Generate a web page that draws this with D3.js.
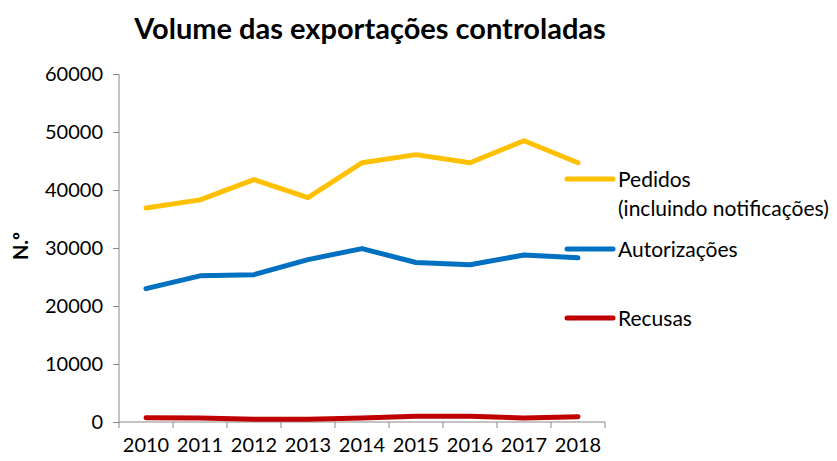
<!DOCTYPE html>
<html>
<head>
<meta charset="utf-8">
<script src="https://cdn.jsdelivr.net/npm/d3@7"></script>
<style>
  body { margin: 0; background: #fff; }
  text { font-family: Lato, "Open Sans", sans-serif; }
</style>
</head>
<body>
<div id="chart"></div>
<script>
// data
const years = ["2010", "2011", "2012", "2013", "2014", "2015", "2016", "2017", "2018"];
const pedidos = [36900, 38300, 41800, 38700, 44700, 46100, 44700, 48500, 44700];
const autorizacoes = [23000, 25200, 25400, 28000, 29900, 27500, 27100, 28800, 28300];
const recusas = [750, 700, 460, 460, 700, 1000, 1000, 700, 900];
const yTicks = [0, 10000, 20000, 30000, 40000, 50000, 60000];

const seriesNames = ["Pedidos", "Autorizações", "Recusas"];
const seriesColors = ["#FFC000", "#0070C0", "#C00000"];

const width = 837, height = 461;
const plotLeft = 119, plotRight = 605, plotTop = 74, plotBottom = 422;

let svg = d3.select("#chart")
    .append("svg")
    .attr("width", width)
    .attr("height", height);

// title
svg.append("text")
    .attr("x", 370)
    .attr("y", 39)
    .attr("text-anchor", "middle")
    .style("font-size", "29px")
    .style("font-weight", "bold")
    .text("Volume das exportações controladas");

let xScale = d3.scaleBand()
    .domain(years)
    .range([plotLeft, plotRight]);

let yScale = d3.scaleLinear()
    .domain([0, 60000])
    .range([plotBottom, plotTop]);

// axes
let xAxis = svg.append("g")
    .attr("transform", "translate(0," + plotBottom + ")")
    .call(d3.axisBottom(xScale).tickSize(0).tickPadding(16));
xAxis.select(".domain").attr("stroke", "#898989").attr("d", "M" + plotLeft + ",0H" + plotRight);
// tick marks at band edges
xAxis.selectAll("line.edge")
    .data(years.concat(["end"]))
    .enter()
    .append("line")
    .attr("class", "edge")
    .attr("x1", (d, i) => plotLeft + i * xScale.bandwidth())
    .attr("x2", (d, i) => plotLeft + i * xScale.bandwidth())
    .attr("y1", 0)
    .attr("y2", 6)
    .attr("stroke", "#898989");
xAxis.selectAll("text")
    .style("font-size", "20px")
    .attr("fill", "#000");

let yAxis = svg.append("g")
    .attr("transform", "translate(" + plotLeft + ",0)")
    .call(d3.axisLeft(yScale).tickValues(yTicks).tickFormat(d3.format("d")).tickSize(6).tickPadding(10));
yAxis.select(".domain").attr("stroke", "#898989").attr("d", "M0," + plotTop + "V" + plotBottom);
yAxis.selectAll(".tick line").attr("stroke", "#898989");
yAxis.selectAll("text")
    .style("font-size", "20px")
    .attr("fill", "#000");

// y axis label
svg.append("text")
    .attr("transform", "translate(28,246) rotate(-90)")
    .attr("text-anchor", "middle")
    .style("font-size", "20px")
    .style("font-weight", "bold")
    .text("N.º");

// lines
const line = d3.line()
    .x((d, i) => xScale(years[i]) + xScale.bandwidth() / 2)
    .y(d => yScale(d));

[pedidos, autorizacoes, recusas].forEach(function (data, k) {
    svg.append("path")
        .datum(data)
        .attr("d", line)
        .attr("fill", "none")
        .attr("stroke", seriesColors[k])
        .attr("stroke-width", 5)
        .attr("stroke-linecap", "round")
        .attr("stroke-linejoin", "round");
});

// legend
const legendY = [179, 249, 318];
seriesNames.forEach(function (name, k) {
    svg.append("line")
        .attr("x1", 567).attr("x2", 613)
        .attr("y1", legendY[k]).attr("y2", legendY[k])
        .attr("stroke", seriesColors[k])
        .attr("stroke-width", 5)
        .attr("stroke-linecap", "round");
    svg.append("text")
        .attr("x", 618)
        .attr("y", legendY[k] + 8)
        .style("font-size", "21px")
        .text(name);
});
svg.append("text")
    .attr("x", 618)
    .attr("y", 216)
    .style("font-size", "21px")
    .text("(incluindo notificações)");
</script>
</body>
</html>
